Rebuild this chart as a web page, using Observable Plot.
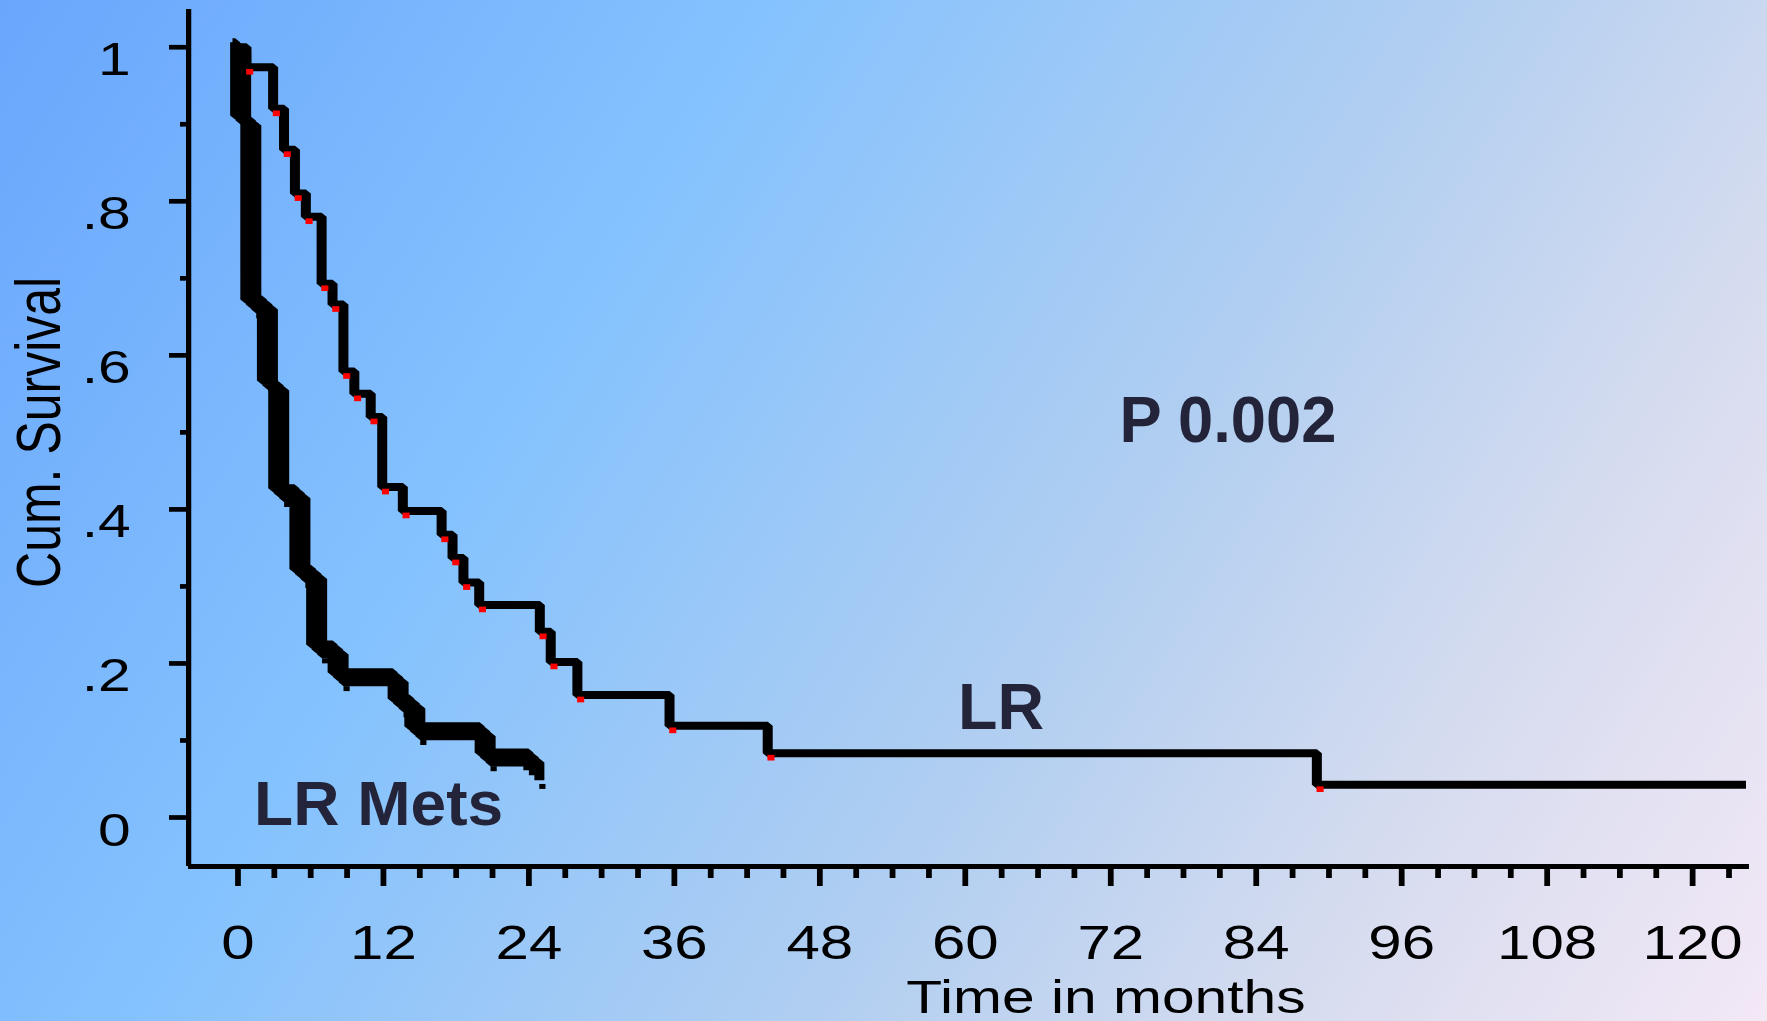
<!DOCTYPE html>
<html>
<head>
<meta charset="utf-8">
<script src="https://cdn.jsdelivr.net/npm/d3@7"></script>
<script src="https://cdn.jsdelivr.net/npm/@observablehq/plot@0.6"></script>
<style>
  html, body { margin: 0; padding: 0; width: 1767px; height: 1021px; overflow: hidden; }
  body { background: linear-gradient(122deg, #6aa6fc 0%, #84c2fe 32%, #b0cef1 60%, #d6dcef 80%, #f3e8f6 100%); font-family: "Liberation Sans", Arial, sans-serif; }
  #chart { position: absolute; left: 0; top: 0; }
</style>
</head>
<body>
<div id="chart"></div>
<script>
// ---------- data ----------
// LR group: times of each step (months) and survival after the step (first = start, last = end of follow-up)
const lrTimes = [0, 0.7, 2.9, 3.8, 4.7, 5.6, 6.9, 7.8, 8.7, 9.6, 10.95, 11.9, 13.6, 16.8, 17.7, 18.6, 19.9, 24.9, 25.8, 28.0, 35.6, 43.7, 89.0, 124.4];
const lrSurv  = [1, 0.974, 0.92, 0.867, 0.81, 0.78, 0.693, 0.666, 0.579, 0.55, 0.52, 0.429, 0.398, 0.367, 0.337, 0.305, 0.276, 0.241, 0.202, 0.159, 0.119, 0.0835, 0.0426, 0.0426];
// LR Mets group
const metsTimes = [0, 0.22, 1.06, 2.43, 3.36, 5.11, 6.49, 8.26, 13.21, 14.59, 20.39, 24.41];
const metsSurv  = [1, 0.905, 0.666, 0.561, 0.421, 0.316, 0.218, 0.182, 0.148, 0.112, 0.078, 0.055];

const xMajorTicks = [0, 12, 24, 36, 48, 60, 72, 84, 96, 108, 120];
const xTickLabels = ["0", "12", "24", "36", "48", "60", "72", "84", "96", "108", "120"];
const xMinorTicks = [3, 6, 9, 15, 18, 21, 27, 30, 33, 39, 42, 45, 51, 54, 57, 63, 66, 69, 75, 78, 81, 87, 90, 93, 99, 102, 105, 111, 114, 117, 123];
const yMajorTicks = [0, 0.2, 0.4, 0.6, 0.8, 1];
const yTickLabels = ["0", ".2", ".4", ".6", ".8", "1"];
const yMinorTicks = [0.1, 0.3, 0.5, 0.7, 0.9];

const xTitle = "Time in months";
const yTitle = "Cum. Survival";
const pLabel = "P 0.002";
const lrLabel = "LR";
const metsLabel = "LR Mets";

// ---------- layout ----------
const STRETCH = 1.25;            // the original picture is stretched horizontally
const W = 1767 / STRETCH;
const H = 1021;
const xDomain = [-4.07, 124.7];
const yDomain = [-0.0636, 1.049];

const lrRows = lrTimes.map((t, i) => ({t, s: lrSurv[i]}));
const metsRows = metsTimes.map((t, i) => ({t, s: metsSurv[i]}));
const lrDrops = lrRows.slice(1, -1);
const metsDrops = metsRows.slice(1);

const ink = "#23243a";
const stepOpts = {x: "t", y: "s", curve: "step-after", stroke: "#000", strokeWidth: 8, strokeLinejoin: "miter", strokeLinecap: "butt"};

const plot = Plot.plot({
  width: W,
  height: H,
  marginLeft: 188 / STRETCH,
  marginRight: (1767 - 1749) / STRETCH,
  marginTop: 9,
  marginBottom: H - 866,
  x: {domain: xDomain, label: null},
  y: {domain: yDomain, label: null},
  style: {background: "transparent", fontFamily: "Liberation Sans, Arial, sans-serif", color: "#000", overflow: "visible"},
  marks: [
    // axis lines
    Plot.ruleX([xDomain[0]], {stroke: "#000", strokeWidth: 4.2}),
    Plot.ruleY([yDomain[0]], {stroke: "#000", strokeWidth: 5}),
    // ticks
    Plot.axisY({ticks: yMajorTicks, tickSize: 19 / STRETCH, strokeWidth: 4.7, tickFormat: () => "", label: null}),
    Plot.axisY({ticks: yMinorTicks, tickSize: 8 / STRETCH, strokeWidth: 4.7, tickFormat: () => "", label: null}),
    Plot.axisX({ticks: xMajorTicks, tickSize: 20, strokeWidth: 4.6, tickFormat: () => "", label: null}),
    Plot.axisX({ticks: xMinorTicks, tickSize: 12, strokeWidth: 4.6, tickFormat: () => "", label: null}),
    // tick labels
    Plot.text(yMajorTicks, {y: d => d, text: (d, i) => yTickLabels[i], frameAnchor: "left", dx: 130 / STRETCH - 188 / STRETCH, dy: 13, textAnchor: "end", lineAnchor: "middle", fontSize: 47, fill: "#000"}),
    Plot.text(xMajorTicks, {x: d => d, text: (d, i) => xTickLabels[i], frameAnchor: "bottom", dy: 58, lineAnchor: "top", fontSize: 48, fill: "#000"}),
    // axis titles
    Plot.text([xTitle], {x: 71.6, frameAnchor: "bottom", dy: 113, lineAnchor: "top", fontSize: 47, fill: "#000"}),
    Plot.text([yTitle], {y: 0.5, frameAnchor: "left", dx: 39 / STRETCH - 188 / STRETCH, rotate: -90, lineAnchor: "middle", textAnchor: "middle", fontSize: 50, fill: "#000"}),
    // LR Mets curve (drawn as three offset strokes, as in the original)
    Plot.line(metsRows, {...stepOpts, dx: -4.4, dy: -5}),
    Plot.line(metsRows, {...stepOpts}),
    Plot.line(metsRows, {...stepOpts, dx: 4.4, dy: 5}),
    Plot.dot(metsDrops, {x: "t", y: "s", symbol: "square", r: 2.8, fill: "#000", dx: 6.8, dy: 11.3}),
    // LR curve
    Plot.line(lrRows, stepOpts),
    Plot.dot(lrDrops, {x: "t", y: "s", symbol: "square", r: 3.2, fill: "#ff0000", dx: 2.6, dy: 4.5}),
    // annotations
    Plot.text([pLabel], {x: 81.66, y: 0.548, lineAnchor: "top", textAnchor: "middle", fontSize: 65, fontWeight: "bold", fill: ink}),
    Plot.text([lrLabel], {x: 62.95, y: 0.1736, lineAnchor: "top", textAnchor: "middle", fontSize: 64, fontWeight: "bold", fill: ink}),
    Plot.text([metsLabel], {x: 11.6, y: 0.0481, lineAnchor: "top", textAnchor: "middle", fontSize: 63, fontWeight: "bold", fill: ink})
  ]
});

// match the widths of the overlaid labels (screen px -> svg units)
const widths = new Map([[pLabel, 217 / STRETCH], [lrLabel, 86 / STRETCH], [metsLabel, 249 / STRETCH]]);
plot.querySelectorAll("text").forEach(t => {
  const w = widths.get(t.textContent);
  if (w) { t.setAttribute("textLength", w); t.setAttribute("lengthAdjust", "spacingAndGlyphs"); }
});
plot.style.transform = `scaleX(${STRETCH})`;
plot.style.transformOrigin = "0 0";
plot.style.maxWidth = "none";
document.getElementById("chart").appendChild(plot);
</script>
</body>
</html>
